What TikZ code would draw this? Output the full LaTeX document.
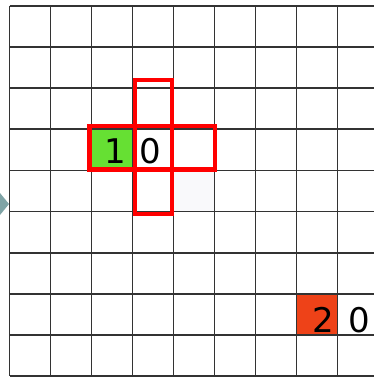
\documentclass[tikz,border=0pt]{standalone}
\usepackage{fontspec}
\setmainfont{DejaVu Sans}
\definecolor{gridgray}{HTML}{333333}
\definecolor{startgreen}{HTML}{66E033}
\definecolor{goalred}{HTML}{EE4218}
\definecolor{markgray}{HTML}{7FA4A6}
\definecolor{faintcell}{HTML}{F9F9FB}
\tikzset{
    gridline/.style={draw=gridgray, line width=1.8pt},
    cross/.style={draw=red, line width=4.5pt},
    digit/.style={font=\fontsize{34}{36}\selectfont, anchor=base, inner sep=0pt},
}
\begin{document}
\begin{tikzpicture}[x=1pt, y=-1pt]

    \useasboundingbox (0,0) rectangle (374,380);

    % cells
    \fill[faintcell] (173.5,170.4) rectangle (214.5,211.5);
    \fill[startgreen] (91.5,129.3) rectangle (132.5,170.4);
    \fill[goalred] (296.5,293.7) rectangle (337.5,334.8);

    % grid
    \foreach \i in {0,...,8}
        \draw[gridline] ({9.5+41*\i},6) -- ({9.5+41*\i},376);
    \foreach \j in {0,...,9}
        \draw[gridline] (9.5,{6+41.1*\j}) -- (374,{6+41.1*\j});

    % neighbourhood
    \draw[cross] (89.5,126) rectangle (215,169.5);
    \draw[cross] (135,80) rectangle (172,214);

    \node[digit] (start) at (115,163) {1};
    \node[digit] (startcost) at (150,163) {0};
    \node[digit] (goal) at (323,332) {2};
    \node[digit] (goalcost) at (359,332) {0};

    \fill[markgray] (0,193) -- (9,204) -- (0,215) -- cycle;

\end{tikzpicture}
\end{document}
